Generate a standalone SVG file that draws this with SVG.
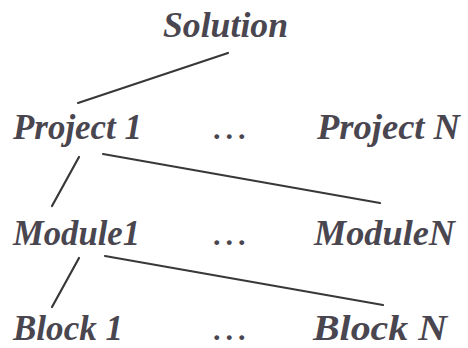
<svg xmlns="http://www.w3.org/2000/svg" width="468" height="348" viewBox="0 0 468 348">
<style>
.t{font-family:"Liberation Serif","Times New Roman",serif;font-weight:bold;font-style:italic;font-size:36px;fill:#4a4650}
.d{font-family:"Liberation Serif","Times New Roman",serif;font-weight:bold;font-size:30px;letter-spacing:5px;fill:#4a4650}
.c line{stroke:#383838;stroke-width:2.2;stroke-linecap:round}
</style>
<rect width="468" height="348" fill="#ffffff"/>
<g class="c" id="connectors">
<line x1="78" y1="103" x2="228" y2="53"/>
<line x1="79" y1="157" x2="52" y2="206"/>
<line x1="103" y1="154" x2="380" y2="203"/>
<line x1="79" y1="258" x2="52" y2="307"/>
<line x1="105" y1="256" x2="383" y2="305"/>
</g>
<g id="solution"><text class="t" x="163" y="37" textLength="125" lengthAdjust="spacingAndGlyphs">Solution</text></g>
<g id="project1"><text class="t" x="13" y="139" textLength="129" lengthAdjust="spacingAndGlyphs">Project 1</text></g>
<g id="dots1"><text class="d" x="213" y="139">...</text></g>
<g id="projectN"><text class="t" x="317" y="139" textLength="143" lengthAdjust="spacingAndGlyphs">Project N</text></g>
<g id="module1"><text class="t" x="13" y="245" textLength="127" lengthAdjust="spacingAndGlyphs">Module1</text></g>
<g id="dots2"><text class="d" x="213" y="245">...</text></g>
<g id="moduleN"><text class="t" x="314" y="245" textLength="141" lengthAdjust="spacingAndGlyphs">ModuleN</text></g>
<g id="block1"><text class="t" x="13" y="340" textLength="110" lengthAdjust="spacingAndGlyphs">Block 1</text></g>
<g id="dots3"><text class="d" x="213" y="340">...</text></g>
<g id="blockN"><text class="t" x="313" y="340" textLength="134" lengthAdjust="spacingAndGlyphs">Block N</text></g>
</svg>
